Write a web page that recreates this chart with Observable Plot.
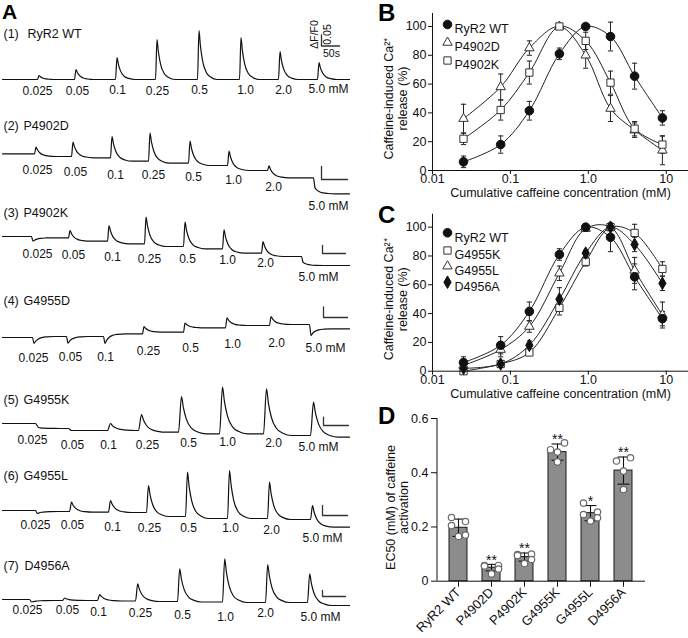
<!DOCTYPE html>
<html><head><meta charset="utf-8">
<script src="https://cdn.jsdelivr.net/npm/d3@7"></script>
<script src="https://cdn.jsdelivr.net/npm/@observablehq/plot@0.6"></script>
<style>
body{margin:0;background:#fff;font-family:Arial,"Liberation Sans",Helvetica,sans-serif;}
#fig{position:relative;width:688px;height:638px;overflow:hidden;background:#fff;}
.panel{position:absolute;}
.lab{position:absolute;font-weight:bold;line-height:1.1;color:#000;font-family:Arial,"Liberation Sans",sans-serif;}
</style></head><body><div id="fig"></div>
<script>
// ================= DATA =================
// Panel A: single-cell Ca2+ traces (amplitude read off in a.u., up = positive)
const constructsA = ["RyR2 WT","P4902D","P4902K","G4955D","G4955K","G4955L","D4956A"];
const additionLabels = ["0.025","0.05","0.1","0.25","0.5","1.0","2.0","5.0 mM"];
const traceOnset = [
  [37,74,115,155,197,239,278,317],
  [34,71,110,148,188,227,267,313],
  [31,68,107,144,183,222,261,301],
  [32,66,103,142,183,225,269,309],
  [35,68,107,138,178,219,263,310],
  [35,69,108,146,185,227,267,310],
  [29,62,97,135,177,222,265,307]
];
const traceBase = [
  [0,0,0,0,0,0,0,0],
  [-1.3,-4,-5.3,-8.7,-10.7,-13,-18,-25.3],
  [-1,-2.3,-5.7,-8.3,-11,-13.3,-17.7,-21],
  [0,1,1,3.7,5.3,9.7,12,13],
  [0,-5,-7,-7,-8.7,-10.3,-10.3,-12],
  [0,-1,-1.7,-2,-6,-8,-8,-9],
  [0,-1,-1,-1.5,-2,-2.5,-3,-3]
];
const tracePeak = [
  [4,10,22,40,49,42,28,17],
  [5.3,10.3,16,19.3,11.3,1.3,-13.3,-35.3],
  [-5.7,5,10,18.3,13.3,5.7,-6,-26.7],
  [-6,-5.7,-6,11,14.3,19.7,21,2],
  [-4,-7,0,9,27,36.3,34.7,21.3],
  [-3,8.3,10,25,38.3,40,28.3,5],
  [-2.5,1.5,5,15.7,30.7,40.7,35,25.7]
];
const traceEnd = [0,-41.3,-30,8.7,-13.7,-16.7,-6];

// Panels B & C: cumulative caffeine (mM) and normalized release (%)
const cumConc = [0.025,0.075,0.175,0.425,0.925,1.925,3.925,8.925];
const relWT     = [6,18,41.5,81,100,93,65.5,36.5];
const errWT     = [4,6,6.5,4,1,10,9,5];
const relP4902D = [36,58,85,100,80,43,28,14];
const errP4902D = [10,9,5,1,9,9,5,10];
const relP4902K = [22,42,68,100,90,61,29,18];
const errP4902K = [4,7,8,1,6,8,5,6];
const relG4955K = [0,5,13,44,76,100,96,71];
const errG4955K = [1,1,2,5,3,1,6,5];
const relG4955L = [4,15,31,68,99,100,70,39];
const errG4955L = [3,5,4,5,2,2,9,9];
const relD4956A = [2,5,18,50,82,100,88,61];
const errD4956A = [2,2,3,8,2,2,5,5];

// Panel D: EC50 (mM)
const ec50Names  = ["RyR2 WT","P4902D","P4902K","G4955K","G4955L","D4956A"];
const ec50Mean   = [0.197,0.05,0.089,0.476,0.251,0.408];
const ec50SD     = [0.032,0.012,0.015,0.03,0.028,0.05];
const ec50Points = [
  [0.235,0.22,0.205,0.17,0.165],
  [0.058,0.058,0.056,0.045,0.027],
  [0.098,0.1,0.095,0.08,0.065],
  [0.51,0.485,0.476,0.44],
  [0.288,0.255,0.246,0.234,0.222],
  [0.455,0.443,0.406,0.338]
];
const ec50Stars = ["","**","**","**","*","**"];

// ================= LAYOUT =================
const FONT = "Arial, 'Liberation Sans', Helvetica, sans-serif";
const layoutA = {
  rowY:   [79,152,235,337,423,510,599],
  labelY: [33,125,212,300,399,475,565],
  nameX:  [27,23,23,23,23,23,24],
  concX: [
    [37,77,117,157,199,245,283,328],
    [37,75,115,153,193,233,273,328],
    [37,73,112,149,187,227,265,318],
    [33,70,105,148,190,232,276,325],
    [32,72,108,147,188,227,273,318],
    [35,72,112,149,188,230,271,322],
    [27,67,98,140,182,225,265,320]
  ],
  concY: [
    [91,91,90,91,90,90,90,89],
    [170,171.7,175,175,177,180,186.7,206],
    [254,255,257,259,259,260,263,276.7],
    [358,356.5,357,351,348,344,343,348],
    [440,445,445,445,443,441.7,443,446.7],
    [525,525,526.7,528,528,528,530,538],
    [610,610,611.7,613,615,616.7,613,616.7]
  ],
  sbX:      [321,321,322,323,323,322,322],
  sbBottom: [45.5,179,253,317,425,515,596],
  sbH:      [11,13,8,10.5,8.3,10,6],
  sbW:      [18,26,23,24,25,25,23],
  rise:  [1.5,1.5,1.5,1.5,3,2,2.2],
  kin:   [0.9,1,1,1,1.25,1.05,1.1]
};
const decayStep = [1.5,4,8,13,20];
const decayFrac = [0.7,0.38,0.15,0.05,0];

const fig = document.getElementById("fig");
function place(node, left, top){ node.classList.add("panel"); node.style.left=left+"px"; node.style.top=top+"px"; fig.appendChild(node); }
function letter(t, left, top, size){ const d=document.createElement("div"); d.className="lab"; d.textContent=t; d.style.left=left+"px"; d.style.top=top+"px"; d.style.fontSize=size+"px"; fig.appendChild(d); }

// ================= PANEL A =================
const tracePts = [];
constructsA.forEach((name, r) => {
  const on = traceOnset[r], b = traceBase[r], p = tracePeak[r];
  const Y = a => layoutA.rowY[r] - a;
  tracePts.push({row:r, t:2, y:Y(b[0])});
  on.forEach((t0, i) => {
    const next = i < on.length-1 ? b[i+1] : traceEnd[r];
    tracePts.push({row:r, t:t0, y:Y(b[i])});
    tracePts.push({row:r, t:t0+layoutA.rise[r], y:Y(p[i])});
    decayStep.forEach((s,k) => tracePts.push({row:r, t:t0+layoutA.rise[r]+s*layoutA.kin[r], y:Y(next+(p[i]-next)*decayFrac[k])}));
  });
  tracePts.push({row:r, t:349, y:Y(traceEnd[r])});
});
const concText = [];
constructsA.forEach((name, r) => additionLabels.forEach((lab, i) => concText.push({x:layoutA.concX[r][i], y:layoutA.concY[r][i], text:lab})));
const rowNum = constructsA.map((n, r) => ({x:3, y:layoutA.labelY[r], text:`(${r+1})`}));
const rowName = constructsA.map((n, r) => ({x:layoutA.nameX[r], y:layoutA.labelY[r], text:n}));
const sbPts = [];
constructsA.forEach((n, r) => {
  const x0 = layoutA.sbX[r], yb = layoutA.sbBottom[r];
  sbPts.push({row:r, t:x0, y:yb-layoutA.sbH[r]}, {row:r, t:x0, y:yb}, {row:r, t:x0+layoutA.sbW[r], y:yb});
});

const plotA = Plot.plot({
  width:350, height:638, margin:0,
  style:{fontFamily:FONT, background:"none", color:"#111"},
  x:{domain:[0,350], range:[0,350], axis:null},
  y:{domain:[0,638], range:[0,638], axis:null},
  marks:[
    Plot.line(tracePts, {x:"t", y:"y", z:"row", curve:"monotone-x", stroke:"#111", strokeWidth:1.2}),
    Plot.line(sbPts, {x:"t", y:"y", z:"row", stroke:"#333", strokeWidth:1.3}),
    Plot.text(concText, {x:"x", y:"y", text:"text", fontSize:12, fill:"#111"}),
    Plot.text(rowNum, {x:"x", y:"y", text:"text", fontSize:12.5, textAnchor:"start", fill:"#111"}),
    Plot.text(rowName, {x:"x", y:"y", text:"text", fontSize:12.5, textAnchor:"start", fill:"#111"}),
    Plot.text(["\u0394F/F0"], {x:()=>314, y:()=>34, rotate:-90, fontSize:10.5, fill:"#111"}),
    Plot.text(["0.05"], {x:()=>327, y:()=>34, rotate:-90, fontSize:10.5, fill:"#111"}),
    Plot.text(["50s"], {x:()=>331, y:()=>53, fontSize:10.5, fill:"#111"})
  ]
});
place(plotA, 0, 0);

// ================= PANELS B & C =================
const hbar = { draw(ctx, size){ const w = Math.sqrt(size/Math.PI); ctx.moveTo(-w,0); ctx.lineTo(w,0); } };
const styleOf = {
  "RyR2 WT": {symbol:"circle",   r:4.3, fill:"#111",  stroke:"#111"},
  "P4902D":  {symbol:"triangle", r:3.5, fill:"white", stroke:"#333"},
  "P4902K":  {symbol:"square",   r:4.1, fill:"white", stroke:"#333"},
  "G4955K":  {symbol:"square",   r:4.1, fill:"white", stroke:"#333"},
  "G4955L":  {symbol:"triangle", r:3.5, fill:"white", stroke:"#333"},
  "D4956A":  {symbol:"diamond",  r:3.8, fill:"#111",  stroke:"#111"}
};
function dosePlot(series, drawOrder, legendDy, height, marginTop, marginBottom){
  const rows = series.flatMap(s => cumConc.map((c,i) => ({s:s.name, c, v:s.v[i], e:s.e[i]})));
  const marks = [
    Plot.line(rows, {x:"c", y:"v", z:"s", curve:"catmull-rom", stroke:"#222", strokeWidth:1}),
    Plot.ruleX(rows, {x:"c", y1:d=>d.v-d.e, y2:d=>d.v+d.e, stroke:"#222", strokeWidth:1}),
    Plot.dot(rows, {x:"c", y:d=>d.v+d.e, symbol:hbar, r:2.6, stroke:"#222", strokeWidth:1}),
    Plot.dot(rows, {x:"c", y:d=>d.v-d.e, symbol:hbar, r:2.6, stroke:"#222", strokeWidth:1})
  ];
  drawOrder.forEach(n => marks.push(Plot.dot(rows.filter(d=>d.s===n), {x:"c", y:"v", ...styleOf[n], strokeWidth:1})));
  series.forEach((s,i) => {
    marks.push(Plot.dot([s.name], {frameAnchor:"top-left", dx:15, dy:legendDy[i], ...styleOf[s.name], strokeWidth:1}));
    marks.push(Plot.text([s.name], {frameAnchor:"top-left", dx:22, dy:legendDy[i], text:d=>d, textAnchor:"start", fontSize:12.5, fill:"#111"}));
  });
  marks.push(
    Plot.ruleY([0], {stroke:"#111"}),
    Plot.ruleX([0.01], {stroke:"#111"}),
    Plot.axisX({ticks:[0.01,0.1,1,10], tickFormat:d=>({0.01:"0.01",0.1:"0.1",1:"1.0",10:"10"})[d], tickSize:4, tickPadding:0, fontSize:12.5, label:null}),
    Plot.axisY({ticks:[0,20,40,60,80,100], tickSize:4, tickPadding:2, fontSize:12.5, label:null}),
    Plot.text(["Caffeine-induced Ca\u00B2\u207A\nrelease (%)"], {frameAnchor:"left", rotate:-90, dx:-37, dy:6.5, fontSize:12.5, lineHeight:1.12, textAnchor:"middle", fill:"#111"}),
    Plot.text(["Cumulative caffeine concentration (mM)"], {frameAnchor:"bottom", dy:26.5, fontSize:12.5, fill:"#111"})
  );
  return Plot.plot({
    width:338, height, marginLeft:82, marginRight:0, marginTop, marginBottom,
    style:{fontFamily:FONT, background:"none", color:"#111", fontSize:"12.5px"},
    x:{type:"log", domain:[0.01,19.3], label:null},
    y:{domain:[0,109], label:null},
    marks
  });
}
const plotB = dosePlot(
  [{name:"RyR2 WT", v:relWT, e:errWT},{name:"P4902D", v:relP4902D, e:errP4902D},{name:"P4902K", v:relP4902K, e:errP4902K}],
  ["P4902D","P4902K","RyR2 WT"], [11,29,47], 205, 13, 35);
place(plotB, 350, 0);
const plotC = dosePlot(
  [{name:"RyR2 WT", v:relWT, e:errWT},{name:"G4955K", v:relG4955K, e:errG4955K},{name:"G4955L", v:relG4955L, e:errG4955L},{name:"D4956A", v:relD4956A, e:errD4956A}],
  ["G4955K","G4955L","D4956A","RyR2 WT"], [18.6,36.3,52,68], 206, 13.7, 35.3);
place(plotC, 350, 200);

// ================= PANEL D =================
const ec50Rows = ec50Names.map((g,i) => ({g, m:ec50Mean[i], sd:ec50SD[i], star:ec50Stars[i]}));
const jitter = n => n === 5 ? [-7,7,-7,7,0] : [7,-7,0,0];
const ec50Pts = ec50Names.flatMap((g,i) => ec50Points[i].map((v,k) => ({g, v, j:jitter(ec50Points[i].length)[k]})));
const yAxisLine = (index, scales, values, dims) => {
  const x = dims.marginLeft;
  const y1 = typeof scales.y === "function" ? scales.y(0.6) : dims.marginTop;
  const y2 = typeof scales.y === "function" ? scales.y(0) : dims.height - dims.marginBottom;
  return d3.create("svg:line").attr("x1",x).attr("x2",x).attr("y1",y1).attr("y2",y2).attr("stroke","#111").node();
};
const plotD = Plot.plot({
  width:338, height:233, marginLeft:87, marginRight:43, marginTop:13, marginBottom:57.3,
  style:{fontFamily:FONT, background:"none", color:"#111", fontSize:"12.5px"},
  x:{domain:ec50Names, paddingInner:0.44, paddingOuter:0.3, label:null},
  y:{domain:[0,0.6], label:null},
  marks:[
    Plot.barY(ec50Rows, {x:"g", y:"m", fill:"#8c8c8c", stroke:"#1a1a1a", strokeWidth:1}),
    Plot.ruleX(ec50Rows, {x:"g", y1:d=>d.m-d.sd, y2:d=>d.m+d.sd, stroke:"#111", strokeWidth:1.1}),
    Plot.dot(ec50Rows, {x:"g", y:d=>d.m+d.sd, symbol:hbar, r:6, stroke:"#111", strokeWidth:1.1}),
    Plot.dot(ec50Rows, {x:"g", y:d=>d.m-d.sd, symbol:hbar, r:6, stroke:"#111", strokeWidth:1.1}),
    ...[-7,0,7].map(j => Plot.dot(ec50Pts.filter(d=>d.j===j), {x:"g", y:"v", dx:j, r:3.2, fill:"white", stroke:"#6a6a6a", strokeWidth:1.2})),
    Plot.text(ec50Rows.filter(d=>d.star), {x:"g", y:d=>d.m+d.sd, text:"star", dy:-4, fontSize:14, fill:"#111"}),
    Plot.ruleY([0], {stroke:"#111"}),
    yAxisLine,
    Plot.axisY({ticks:[0,0.2,0.4,0.6], tickFormat:d=>d===0?"0":String(d), tickSize:6, tickPadding:3, fontSize:12.5, label:null}),
    Plot.axisX({tickRotate:-45, tickSize:6, tickPadding:3, fontSize:13, label:null}),
    Plot.text(["EC50 (mM) of caffeine\nactivation"], {frameAnchor:"left", rotate:-90, dx:-40.5, dy:7.7, fontSize:12.5, lineHeight:1.1, textAnchor:"middle", fill:"#111"})
  ]
});
place(plotD, 350, 405);

// panel letters
letter("A", 2, 0, 21);
letter("B", 378, 0, 24);
letter("C", 378, 202, 24);
letter("D", 378, 403, 24);
</script></body></html>
